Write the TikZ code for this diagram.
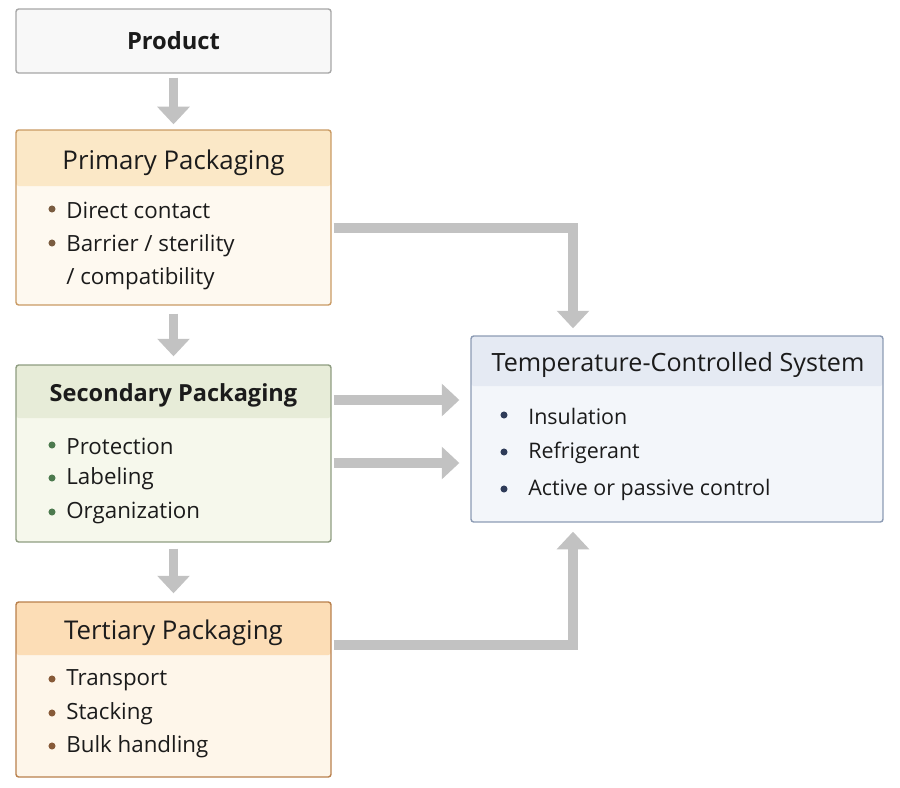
\documentclass[tikz,border=0pt]{standalone}
\usepackage{fontspec}
\setmainfont{Open Sans}
\usetikzlibrary{arrows.meta, calc, positioning}

\definecolor{ink}{HTML}{1B1B1B}
\definecolor{arrowgray}{HTML}{C2C2C2}
\definecolor{prodline}{HTML}{A6A6A6}
\definecolor{prodfill}{HTML}{F8F8F8}
\definecolor{primline}{HTML}{C99A63}
\definecolor{primhead}{HTML}{FBE8C7}
\definecolor{primbody}{HTML}{FEF9F0}
\definecolor{primdot}{HTML}{7A5C40}
\definecolor{secline}{HTML}{8E9C80}
\definecolor{sechead}{HTML}{E7ECD8}
\definecolor{secbody}{HTML}{F6F8EC}
\definecolor{secdot}{HTML}{4C7A4E}
\definecolor{terline}{HTML}{B9804C}
\definecolor{terhead}{HTML}{FCDDB6}
\definecolor{terbody}{HTML}{FEF6EA}
\definecolor{terdot}{HTML}{875A38}
\definecolor{templine}{HTML}{8C9BB4}
\definecolor{temphead}{HTML}{E5EAF3}
\definecolor{tempbody}{HTML}{F3F6FA}
\definecolor{tempdot}{HTML}{2E3B58}

\begin{document}
\begin{tikzpicture}[x=0.02cm, y=-0.02cm,
    box/.style 2 args={draw=#1, fill=#2, line width=0.8pt, rounded corners=1.5pt,
                       minimum width=6.3cm, inner sep=0pt},
    band/.style 2 args={path picture={\fill[#1] (path picture bounding box.north west)
                       rectangle ([yshift=-#2]path picture bounding box.north east);}},
    title/.style={font=\fontsize{14.7}{17}\selectfont, text=ink},
    item/.style={anchor=west, font=\fontsize{12.7}{15}\selectfont, text=ink, inner sep=0pt},
    dot/.style={circle, fill=#1, minimum size=4pt, inner sep=0pt},
    flow/.style={draw=arrowgray, line width=5.6pt, line join=miter,
                 -{Triangle[width=18pt, length=10pt]}}
]
    \useasboundingbox (0,0) rectangle (900,788);

    % Product
    \node[box={prodline}{prodfill}, minimum height=1.28cm, text=ink,
          font=\fontsize{13.5}{16}\selectfont\bfseries] (prod) at (173.5,41) {Product};

    % Primary packaging
    \node[box={primline}{primbody}, band={primhead}{1.12cm}, minimum height=3.5cm] (prim) at (173.5,217.5) {};
    \node[title] (primt) at (173.5,163) {Primary Packaging};
    \node[dot=primdot] (pd1) at (52,209) {};
    \node[item] (pi1) at (66,210) {Direct contact};
    \node[dot=primdot] (pd2) at (52,243) {};
    \node[item, align=left, font=\fontsize{12.7}{18.7}\selectfont] (pi2) at (66,262) {Barrier / sterility\\/ compatibility};

    % Secondary packaging
    \node[box={secline}{secbody}, band={sechead}{1.06cm}, minimum height=3.54cm] (sec) at (173.5,453.5) {};
    \node[title, font=\fontsize{13.4}{16}\selectfont\bfseries] (sect) at (173.5,395) {Secondary Packaging};
    \node[dot=secdot] (sd1) at (52,445) {};
    \node[item] (si1) at (66,446) {Protection};
    \node[dot=secdot] (sd2) at (52,478) {};
    \node[item] (si2) at (66,479) {Labeling};
    \node[dot=secdot] (sd3) at (52,512) {};
    \node[item] (si3) at (66,513) {Organization};

    % Tertiary packaging
    \node[box={terline}{terbody}, band={terhead}{1.06cm}, minimum height=3.5cm] (ter) at (173.5,689.5) {};
    \node[title] (tert) at (173.5,633) {Tertiary Packaging};
    \node[dot=terdot] (td1) at (52,679) {};
    \node[item] (ti1) at (66,680) {Transport};
    \node[dot=terdot] (td2) at (52,713) {};
    \node[item] (ti2) at (66,714) {Stacking};
    \node[dot=terdot] (td3) at (52,746) {};
    \node[item] (ti3) at (66,747) {Bulk handling};

    % Temperature-controlled system
    \node[box={templine}{tempbody}, band={temphead}{1.0cm}, minimum width=8.24cm,
          minimum height=3.72cm] (temp) at (677,429) {};
    \node[title, font=\fontsize{14.3}{17}\selectfont] (tempt) at (678,365) {Temperature-Controlled System};
    \node[dot=tempdot] (md1) at (504,415) {};
    \node[item, font=\fontsize{12.2}{15}\selectfont] (mi1) at (528,416) {Insulation};
    \node[dot=tempdot] (md2) at (504,452) {};
    \node[item, font=\fontsize{12.2}{15}\selectfont] (mi2) at (528,453) {Refrigerant};
    \node[dot=tempdot] (md3) at (504,489) {};
    \node[item, font=\fontsize{12.2}{15}\selectfont] (mi3) at (528,490) {Active or passive control};

    % Downward flow
    \draw[flow, shorten <=0.08cm, shorten >=0.1cm] (prod) -- (prim);
    \draw[flow, shorten <=0.16cm, shorten >=0.16cm] (prim) -- (sec);
    \draw[flow, shorten <=0.12cm, shorten >=0.16cm] (sec) -- (ter);

    % Links into the temperature-controlled system
    \draw[flow, shorten >=0.14cm] ($(prim.east)+(2,10.5)$) -| ($(temp.north)+(-104,0)$);
    \draw[flow, shorten >=0.22cm] ($(sec.east)+(2,-53.5)$) coordinate (s1) -- (s1 -| temp.west);
    \draw[flow, shorten >=0.22cm] ($(sec.east)+(2,9.5)$) coordinate (s2) -- (s2 -| temp.west);
    \draw[flow, shorten >=0.18cm] ($(ter.east)+(2,-44.5)$) -| ($(temp.south)+(-104,0)$);
\end{tikzpicture}
\end{document}
